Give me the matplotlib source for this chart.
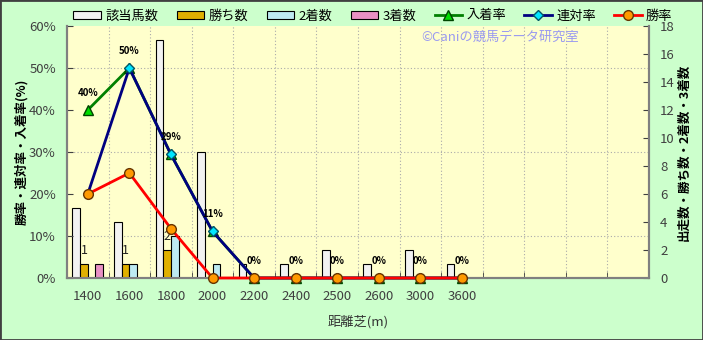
import matplotlib.pyplot as plt
from matplotlib.ticker import MultipleLocator, FixedLocator, FuncFormatter
from matplotlib.patches import Rectangle

plt.rcParams['font.family'] = ['Noto Sans CJK JP', 'DejaVu Sans']
plt.rcParams['font.size'] = 9

# distance categories (turf)
distances = ["1400", "1600", "1800", "2000", "2200", "2400", "2500", "2600", "3000", "3600"]
n_slots = 14  # the chart keeps 4 empty slots at the right

# counts (right axis)
runners = [5, 4, 17, 9, 1, 1, 2, 1, 2, 1]
wins = [1, 1, 2, 0, 0, 0, 0, 0, 0, 0]
seconds = [0, 1, 3, 1, 0, 0, 0, 0, 0, 0]
thirds = [1, 0, 0, 0, 0, 0, 0, 0, 0, 0]

# rates (left axis, %)
win_rate = [w / r * 100 for w, r in zip(wins, runners)]
top2_rate = [(w + s) / r * 100 for w, s, r in zip(wins, seconds, runners)]
top3_rate = [(w + s + t) / r * 100 for w, s, t, r in zip(wins, seconds, thirds, runners)]

x = list(range(len(distances)))

fig = plt.figure(figsize=(7.03, 3.40), dpi=100, facecolor='#ccffcc')
fig.patches.append(Rectangle((0, 0), 1, 1, transform=fig.transFigure, fill=False,
                             edgecolor='#404040', linewidth=2, zorder=10))

ax = fig.add_axes([67 / 703, 1 - 278 / 340, (649 - 67) / 703, (278 - 26) / 340])
axc = ax.twinx()
ax.set_zorder(axc.get_zorder() + 1)
ax.patch.set_visible(False)
axc.patch.set_visible(True)
axc.patch.set_facecolor('#ffffcc')

# bars on the count axis
w = 0.185
bar_specs = [
    (runners, '#f2f2f2', '該当馬数'),
    (wins, '#e0b000', '勝ち数'),
    (seconds, '#bdeaf2', '2着数'),
    (thirds, '#e890c4', '3着数'),
]
bar_handles = []
for i, (vals, col, lab) in enumerate(bar_specs):
    off = (i - 1.5) * w
    b = axc.bar([xi + off for xi in x], vals, width=w, color=col, edgecolor='black',
                linewidth=0.8, label=lab, zorder=3)
    bar_handles.append(b)

for xi, v in zip(x, wins):
    if v > 0:
        axc.annotate(str(v), (xi - 0.5 * w, v), xytext=(0, 10), textcoords='offset points',
                     ha='center', va='center', fontsize=9, color='#202020', zorder=4)

axc.set_ylim(0, 18)
axc.yaxis.set_major_locator(MultipleLocator(2))
axc.yaxis.set_minor_locator(MultipleLocator(3))
axc.grid(which='minor', axis='y', color='#aaaaaa', linestyle=(0, (1, 2)), linewidth=0.8, zorder=0)
axc.tick_params(axis='y', which='major', direction='in', length=4, pad=8, colors='#404040',
                labelsize=9.5)
axc.tick_params(axis='y', which='minor', length=0)
axc.set_ylabel('出走数・勝ち数・2着数・3着数', rotation=90, fontsize=9, fontweight='bold',
               labelpad=2)

# rate lines on the percent axis
l3, = ax.plot(x, top3_rate, color='#008000', linewidth=2, marker='^', markersize=7,
              markerfacecolor='#00dd00', markeredgecolor='#004400', label='入着率', zorder=5,
              clip_on=False)
l2, = ax.plot(x, top2_rate, color='#000080', linewidth=2, marker='D', markersize=5,
              markerfacecolor='#00e5ff', markeredgecolor='#005566', label='連対率', zorder=6,
              clip_on=False)
l1, = ax.plot(x, win_rate, color='#ff0000', linewidth=2, marker='o', markersize=7,
              markerfacecolor='#ff9900', markeredgecolor='#663300', label='勝率', zorder=7,
              clip_on=False)

for xi, v in zip(x, top3_rate):
    ax.annotate('%d%%' % round(v), (xi, v), xytext=(0, 12.5), textcoords='offset points',
                ha='center', va='center', fontsize=7, fontweight='bold', color='black', zorder=8)

ax.set_xlim(-0.5, n_slots - 0.5)
ax.set_ylim(0, 60)
ax.yaxis.set_major_locator(MultipleLocator(10))
ax.yaxis.set_major_formatter(FuncFormatter(lambda v, p: '%d%%' % round(v)))
ax.tick_params(axis='y', direction='in', length=4, pad=8, colors='#404040', labelsize=9.5)
ax.set_ylabel('勝率・連対率・入着率(%)', fontsize=9, fontweight='bold', labelpad=1)

ax.set_xticks(x)
ax.set_xticklabels(distances)
ax.xaxis.set_minor_locator(FixedLocator([i + 0.5 for i in range(n_slots)]))
ax.tick_params(axis='x', which='major', length=0, pad=9, colors='#404040', labelsize=9.5)
ax.tick_params(axis='x', which='minor', direction='in', length=4, color='#404040')
ax.set_xlabel('距離芝(m)', fontsize=9.5, color='#333333', labelpad=8)

axc.xaxis.set_visible(True)
axc.tick_params(axis='x', which='both', length=0, labelbottom=False)
axc.grid(which='minor', axis='x', color='#aaaaaa', linestyle=(0, (1, 2)), linewidth=0.8, zorder=0)

for a in (ax, axc):
    a.spines['top'].set_visible(False)
    for s in ('left', 'right', 'bottom'):
        a.spines[s].set_color('#808080')
        a.spines[s].set_linewidth(1.5)

ax.text(0.745, 0.955, '©Caniの競馬データ研究室', transform=ax.transAxes, ha='center',
        va='center', fontsize=9.5, color='#9a9af0', zorder=9)

handles = bar_handles + [l3, l2, l1]
labels = [h.get_label() for h in handles]
fig.legend(handles, labels, ncol=7, loc='center', bbox_to_anchor=(373 / 703, 1 - 16 / 340),
           frameon=False, fontsize=9.5, handlelength=2.1, handletextpad=0.3,
           columnspacing=1.4, handleheight=0.6)

fig.savefig('out.png', dpi=100, facecolor=fig.get_facecolor())
